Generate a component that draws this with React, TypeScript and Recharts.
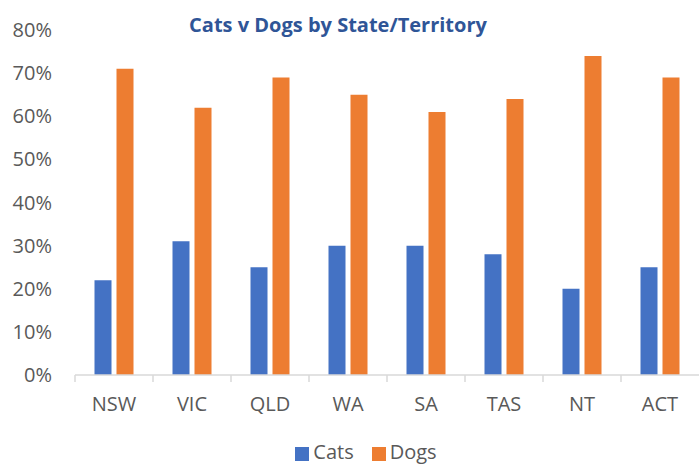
import { Bar, BarChart, Legend, XAxis, YAxis } from "recharts";

const states = ["NSW", "VIC", "QLD", "WA", "SA", "TAS", "NT", "ACT"];
const cats = [22, 31, 25, 30, 30, 28, 20, 25];
const dogs = [71, 62, 69, 65, 61, 64, 74, 69];
const yTicks = [0, 10, 20, 30, 40, 50, 60, 70, 80];

const data = states.map((state, i) => ({ state, cats: cats[i], dogs: dogs[i] }));

const FONT = "'Open Sans', sans-serif";
const GREY = "#595959";

// label plus the small divider mark at the left edge of each category
function StateTick(props: any) {
  const { x, y, payload } = props;
  const left = payload.coordinate - payload.offset;
  return (
    <g>
      <line x1={left} y1={y} x2={left} y2={y + 7} stroke="#d9d9d9" strokeWidth={1.5} />
      <text x={x} y={y + 36} textAnchor="middle" fill={GREY} fontSize={20} fontFamily={FONT}>
        {payload.value}
      </text>
    </g>
  );
}

export default function App() {
  return (
    <div style={{ position: "fixed", left: 0, top: 0, width: 699, height: 468, background: "#fff" }}>
      <div
        style={{
          position: "absolute",
          left: 0,
          top: 11,
          width: 676,
          textAlign: "center",
          fontFamily: FONT,
          fontWeight: 700,
          fontSize: 20,
          lineHeight: "28px",
          color: "#2F5597",
        }}
      >
        Cats v Dogs by State/Territory
      </div>
      <BarChart
        width={699}
        height={468}
        data={data}
        margin={{ top: 30, right: 0, left: 0, bottom: 17 }}
        barCategoryGap="25%"
        barGap={5}
      >
        <XAxis
          dataKey="state"
          axisLine={{ stroke: "#d9d9d9", strokeWidth: 1.5 }}
          tickLine={false}
          tickSize={0}
          tickMargin={0}
          height={50}
          interval={0}
          tick={<StateTick />}
        />
        <YAxis
          width={75}
          domain={[0, 80]}
          ticks={yTicks}
          axisLine={false}
          tickLine={false}
          tickSize={0}
          tickMargin={23}
          tickFormatter={(v: number) => `${v}%`}
          tick={{ fill: GREY, fontSize: 20, fontFamily: FONT }}
        />
        <Legend
          verticalAlign="bottom"
          align="center"
          iconType="square"
          iconSize={14}
          wrapperStyle={{ left: 43, width: 664, top: 439, bottom: "auto", fontFamily: FONT, fontSize: 20, lineHeight: "26px" }}
          formatter={(value: string) => <span style={{ color: GREY, marginRight: 8 }}>{value}</span>}
        />
        <Bar dataKey="cats" name="Cats" fill="#4472C4" isAnimationActive={false} />
        <Bar dataKey="dogs" name="Dogs" fill="#ED7D31" isAnimationActive={false} />
      </BarChart>
    </div>
  );
}
